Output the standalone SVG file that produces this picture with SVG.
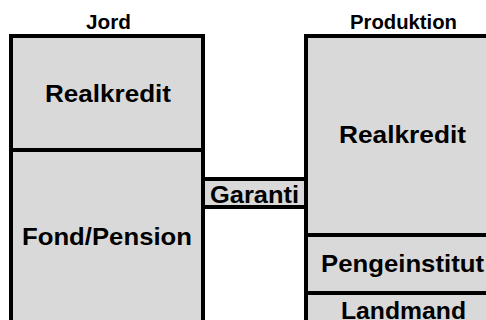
<svg xmlns="http://www.w3.org/2000/svg" width="486" height="320" viewBox="0 0 486 320">
<style>
.box{fill:#d9d9d9;stroke:#000;stroke-width:4}
.t{font-family:"Liberation Sans",Arial,sans-serif;font-weight:bold;fill:#000;text-anchor:middle}
.h{font-size:19.5px}
.b{font-size:24px}
</style>
<rect width="486" height="320" fill="#fff"/>
<g id="titles">
<text class="t h" x="108.5" y="29" textLength="45" lengthAdjust="spacingAndGlyphs">Jord</text>
<text class="t h" x="403.5" y="29" textLength="107" lengthAdjust="spacingAndGlyphs">Produktion</text>
</g>
<g id="connectors">
<g id="garanti">
<rect class="box" x="203" y="179" width="103" height="28"/>
<text class="t b" x="254.5" y="203" textLength="89" lengthAdjust="spacingAndGlyphs">Garanti</text>
</g>
</g>
<g id="jord-realkredit">
<rect class="box" x="11" y="36" width="192" height="114"/>
<text class="t b" x="108" y="102" textLength="126" lengthAdjust="spacingAndGlyphs">Realkredit</text>
</g>
<g id="jord-fond">
<rect class="box" x="11" y="150" width="192" height="190"/>
<text class="t b" x="107" y="245" textLength="170" lengthAdjust="spacingAndGlyphs">Fond/Pension</text>
</g>
<g id="prod-realkredit">
<rect class="box" x="306" y="36" width="194" height="199"/>
<text class="t b" x="402.5" y="143" textLength="127" lengthAdjust="spacingAndGlyphs">Realkredit</text>
</g>
<g id="prod-pengeinstitut">
<rect class="box" x="306" y="235" width="194" height="58"/>
<text class="t b" x="402.5" y="272" textLength="163" lengthAdjust="spacingAndGlyphs">Pengeinstitut</text>
</g>
<g id="prod-landmand">
<rect class="box" x="306" y="293" width="194" height="50"/>
<text class="t b" x="403.5" y="319" textLength="125" lengthAdjust="spacingAndGlyphs">Landmand</text>
</g>
</svg>
